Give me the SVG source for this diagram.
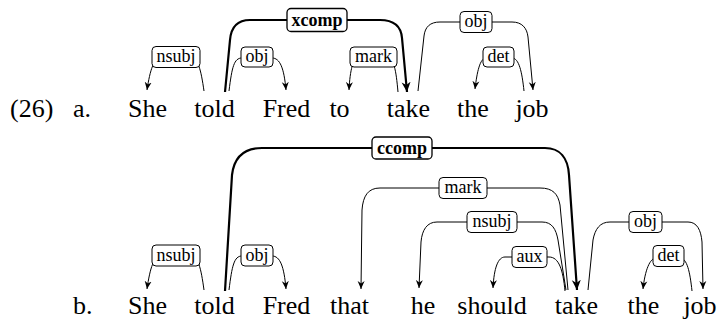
<svg xmlns="http://www.w3.org/2000/svg" width="718" height="321" viewBox="0 0 718 321">
<style>
.box{fill:#fff;stroke:#000;stroke-width:1}
.bbox{fill:#fff;stroke:#000;stroke-width:1.3}
.e{fill:none;stroke:#000;stroke-width:1;marker-end:url(#ah)}
.et{fill:none;stroke:#000;stroke-width:2.2;marker-end:url(#aht)}
.b{font-weight:bold}
</style>
<defs>
<marker id="ah" markerUnits="userSpaceOnUse" viewBox="0 0 8 8" markerWidth="8" markerHeight="8" refX="8" refY="4" orient="auto">
<path d="M0,0.5 L8,4 L0,7.5 L2.5,4 Z" fill="#000"/>
</marker>
<marker id="aht" markerUnits="userSpaceOnUse" viewBox="0 0 10 10" markerWidth="10" markerHeight="10" refX="10" refY="5" orient="auto">
<path d="M0,0.5 L10,5 L0,9.5 L3,5 Z" fill="#000"/>
</marker>
</defs>

<g id="labels" font-family="Liberation Serif" font-size="26" fill="#000">
<text x="10" y="117">(26)</text>
<text x="73" y="117">a.</text>
<text x="73" y="314">b.</text>
</g>

<g id="connectors">
<path class="e" d="M204 91 C201 70 198 57 190 57 L162 57 C154 57 150 70 147 90"/>
<path class="e" d="M229 91 C232 67 234 58 242 58 L272 58 C280 58 284 68 286 90"/>
<path class="et" d="M225 92 L230 40 C231 28 236 20 250 20 L380 20 C394 20 401 26 402 38 L407 92"/>
<path class="e" d="M398 92 C396 70 394 57 386 57 L360 57 C353 57 350 70 349 90"/>
<path class="e" d="M418 91 L424 36 C425 27 430 22 440 22 L512 22 C522 22 527 28 528 37 L533 90"/>
<path class="e" d="M524 91 C522 72 519 58 512 58 L486 58 C480 58 477 72 475 89"/>
<path class="e" d="M204 290 C201 268 198 255 190 255 L162 255 C154 255 150 268 147 289"/>
<path class="e" d="M229 290 C232 266 234 256 242 256 L272 256 C280 256 284 266 286 289"/>
<path class="et" d="M225 291 L232 175 C234 158 243 148 262 148 L545 148 C560 148 568 158 569 175 L577 290"/>
<path class="e" d="M568 290 L560 205 C558 194 553 188 540 188 L380 188 C368 188 363 196 362 210 L361 289"/>
<path class="e" d="M566 290 L558 240 C556 229 552 222 542 222 L437 222 C427 222 422 230 421 242 L419 288"/>
<path class="e" d="M565 291 C563 270 559 257 549 257 L505 257 C498 257 494 268 493 288"/>
<path class="e" d="M588 290 L593 240 C595 229 600 222 610 222 L688 222 C697 222 701 230 702 242 L703 289"/>
<path class="e" d="M692 291 C690 272 687 258 680 258 L656 258 C650 258 645 270 643 289"/>
</g>

<g id="words-a" font-family="Liberation Serif" font-size="26" text-anchor="middle" fill="#000">
<text x="147.5" y="117">She</text>
<text x="214.5" y="117">told</text>
<text x="286.5" y="117">Fred</text>
<text x="339.5" y="117">to</text>
<text x="408.5" y="117">take</text>
<text x="473" y="117">the</text>
<text x="532" y="117">job</text>
</g>
<g id="words-b" font-family="Liberation Serif" font-size="26" text-anchor="middle" fill="#000">
<text x="147.5" y="314">She</text>
<text x="214.5" y="314">told</text>
<text x="286.5" y="314">Fred</text>
<text x="349.5" y="314">that</text>
<text x="423" y="314">he</text>
<text x="492" y="314">should</text>
<text x="576.5" y="314">take</text>
<text x="643.5" y="314">the</text>
<text x="700" y="314">job</text>
</g>

<g id="arc-labels" font-family="Liberation Serif" font-size="18" text-anchor="middle" fill="#000">
<g id="a-nsubj"><rect class="box" x="152" y="46.5" width="48" height="21" rx="4"/><text x="176" y="62">nsubj</text></g>
<g id="a-obj1"><rect class="box" x="241" y="47" width="32" height="20" rx="4"/><text x="257" y="62">obj</text></g>
<g id="a-xcomp"><rect class="bbox" x="287" y="8.5" width="60" height="23" rx="4"/><text class="b" x="317" y="25.5">xcomp</text></g>
<g id="a-mark"><rect class="box" x="350" y="47" width="47" height="20" rx="4"/><text x="373.5" y="62">mark</text></g>
<g id="a-obj2"><rect class="box" x="460" y="11.5" width="32" height="21" rx="4"/><text x="476" y="27">obj</text></g>
<g id="a-det"><rect class="box" x="483" y="47" width="31" height="20" rx="4"/><text x="498.5" y="62">det</text></g>
<g id="b-nsubj"><rect class="box" x="152" y="245" width="48" height="21" rx="4"/><text x="176" y="260.5">nsubj</text></g>
<g id="b-obj1"><rect class="box" x="241" y="245" width="32" height="21" rx="4"/><text x="257" y="260.5">obj</text></g>
<g id="b-ccomp"><rect class="bbox" x="372" y="137" width="60" height="22" rx="4"/><text class="b" x="402" y="153.5">ccomp</text></g>
<g id="b-mark"><rect class="box" x="439" y="177.5" width="48" height="21" rx="4"/><text x="463" y="193">mark</text></g>
<g id="b-nsubj2"><rect class="box" x="467" y="211.5" width="50" height="21" rx="4"/><text x="492" y="227">nsubj</text></g>
<g id="b-aux"><rect class="box" x="512" y="246.5" width="35" height="21" rx="4"/><text x="529.5" y="262">aux</text></g>
<g id="b-obj2"><rect class="box" x="629" y="211.5" width="33" height="21" rx="4"/><text x="645.5" y="227">obj</text></g>
<g id="b-det"><rect class="box" x="653" y="245.5" width="31" height="21" rx="4"/><text x="668.5" y="261">det</text></g>
</g>
</svg>
